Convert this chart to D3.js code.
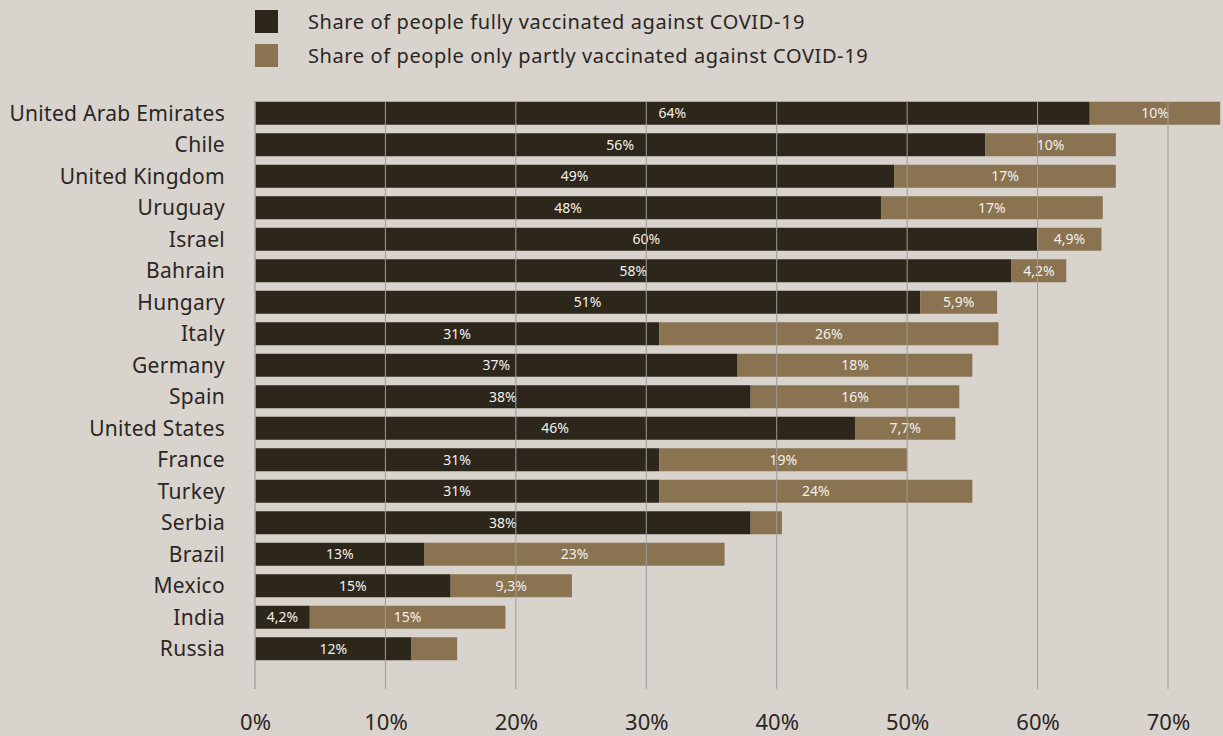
<!DOCTYPE html>
<html>
<head>
<meta charset="utf-8">
<script src="https://cdn.jsdelivr.net/npm/d3@7"></script>
<style>
  html, body { margin: 0; padding: 0; background: #d8d3cd; }
  svg { display: block; font-family: "Noto Sans", sans-serif; }
</style>
</head>
<body>
<svg id="chart" width="1223" height="736"></svg>
<script>
// Countries, top to bottom
const countries = [
  "United Arab Emirates", "Chile", "United Kingdom", "Uruguay", "Israel",
  "Bahrain", "Hungary", "Italy", "Germany", "Spain", "United States",
  "France", "Turkey", "Serbia", "Brazil", "Mexico", "India", "Russia"
];
// Share fully vaccinated (%)
const fully = [64, 56, 49, 48, 60, 58, 51, 31, 37, 38, 46, 31, 31, 38, 13, 15, 4.2, 12];
// Share only partly vaccinated (%)
const partly = [10, 10, 17, 17, 4.9, 4.2, 5.9, 26, 18, 16, 7.7, 19, 24, 2.4, 23, 9.3, 15, 3.5];
// Axis ticks (%)
const ticks = [0, 10, 20, 30, 40, 50, 60, 70];
// Legend entries
const seriesNames = [
  "Share of people fully vaccinated against COVID-19",
  "Share of people only partly vaccinated against COVID-19"
];

const colors = ["#2d261b", "#8a7350"];
const svg = d3.select("#chart");
const W = 1223;

const x = d3.scaleLinear().domain([0, 70]).range([255, 1168]);
const y = d3.scaleBand().domain(countries).range([97.5, 664.5])
  .paddingInner(0.27).paddingOuter(0.135);

const fmt = v => (v < 10 ? d3.format(".1f")(v).replace(".", ",") : d3.format(".0f")(v)) + "%";

// Clip so the longest bar stops at the page edge
svg.append("clipPath").attr("id", "plotClip")
  .append("rect").attr("x", 0).attr("y", 0).attr("width", W).attr("height", 736);

const rows = countries.map((c, i) => ({
  country: c,
  segs: [
    { key: 0, x0: 0, x1: fully[i], v: fully[i] },
    { key: 1, x0: fully[i], x1: fully[i] + partly[i], v: partly[i] }
  ]
}));

const plot = svg.append("g").attr("clip-path", "url(#plotClip)");

const row = plot.selectAll("g.row").data(rows).join("g").attr("class", "row");

row.selectAll("rect").data(d => d.segs.map(s => ({ ...s, country: d.country })))
  .join("rect")
  .attr("x", d => x(d.x0))
  .attr("y", d => y(d.country))
  .attr("width", d => x(d.x1) - x(d.x0))
  .attr("height", y.bandwidth())
  .attr("fill", d => colors[d.key]);

// Value labels inside segments wide enough to hold them
row.selectAll("text").data(d => d.segs.map(s => ({ ...s, country: d.country }))
    .filter(s => x(s.x1) - x(s.x0) > 50))
  .join("text")
  .attr("x", d => (x(d.x0) + Math.min(x(d.x1), W)) / 2)
  .attr("y", d => y(d.country) + y.bandwidth() / 2)
  .attr("dy", "0.35em")
  .attr("text-anchor", "middle")
  .attr("fill", "#f4f1ec")
  .attr("font-size", 14)
  .text(d => fmt(d.v));

// Vertical gridlines drawn over the bars
svg.append("g").selectAll("line").data(ticks).join("line")
  .attr("x1", d => x(d)).attr("x2", d => x(d))
  .attr("y1", 101).attr("y2", 689)
  .attr("stroke", d => d === 0 ? "#a8a8a8" : "#9c9c9c")
  .attr("stroke-width", d => d === 0 ? 1.6 : 1);

// Bottom axis labels
const xAxis = d3.axisBottom(x).tickValues(ticks).tickSize(0).tickFormat(d => d + "%");
const ax = svg.append("g").attr("transform", "translate(0,711)").call(xAxis);
ax.select(".domain").remove();
ax.selectAll("text").attr("font-size", 22).attr("fill", "#2a2623")
  .attr("font-family", "Noto Sans, sans-serif");

// Country labels
const yAxis = d3.axisLeft(y).tickSize(0).tickPadding(0);
const ay = svg.append("g").attr("transform", "translate(225,1)").call(yAxis);
ay.select(".domain").remove();
ay.selectAll("text").attr("font-size", 21).attr("fill", "#2a2623")
  .attr("letter-spacing", 0.3)
  .attr("font-family", "Noto Sans, sans-serif");

// Legend
const lg = svg.append("g").selectAll("g").data(seriesNames).join("g")
  .attr("transform", (d, i) => `translate(255,${10 + i * 34})`);
lg.append("rect").attr("width", 23).attr("height", 23).attr("fill", (d, i) => colors[i]);
lg.append("text").attr("x", 53).attr("y", 11.5).attr("dy", "0.35em")
  .attr("font-size", 20).attr("letter-spacing", 0.6)
  .attr("fill", "#2a2623").text(d => d);
</script>
</body>
</html>
